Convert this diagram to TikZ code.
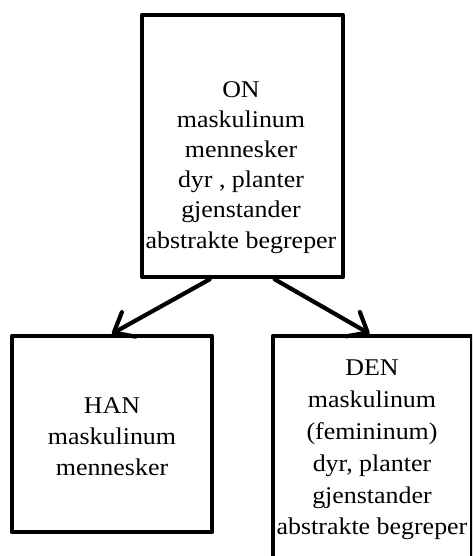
\documentclass[tikz,border=0pt]{standalone}
\usepackage{fontspec}
\setmainfont{Liberation Serif}[FakeStretch=1.08]
\usetikzlibrary{arrows.meta,calc}
\begin{document}
\begin{tikzpicture}[x=1pt,y=-1pt,
  box/.style={draw=black, line width=4.6pt, rectangle, inner sep=0pt, line join=round},
  lbl/.style={align=center, inner sep=0pt, anchor=north, text=black,
              font=\fontsize{24}{31}\selectfont},
  link/.style={line width=4.2pt, line cap=round,
               -{Straight Barb[length=17pt,width=28pt,round]}}]
\useasboundingbox (0,0) rectangle (472,556);
\clip (0,0) rectangle (472,556);

% boxes
\node[box, minimum width=201pt, minimum height=262pt] (on)  at (242.5,146) {};
\node[box, minimum width=200pt, minimum height=196pt] (han) at (112,434) {};
\node[box, minimum width=199pt, minimum height=264pt] (den) at (372.5,468) {};

% box texts
\node[lbl, font=\fontsize{24}{30.2}\selectfont] (ontext) at (241,81)
  {ON\\maskulinum\\mennesker\\dyr , planter\\gjenstander\\abstrakte begreper};
\node[lbl] (hantext) at (112,397)
  {HAN\\maskulinum\\mennesker};
\node[lbl, font=\fontsize{24}{31.8}\selectfont] (dentext) at (372,360)
  {DEN\\maskulinum\\(femininum)\\dyr, planter\\gjenstander\\abstrakte begreper};

% connectors
\draw[link] ($(on.south west)+(70,0)$) -- (han.north);
\draw[link] ($(on.south west)+(135,0)$) -- ($(den.north)+(-3,0)$);
\end{tikzpicture}
\end{document}
